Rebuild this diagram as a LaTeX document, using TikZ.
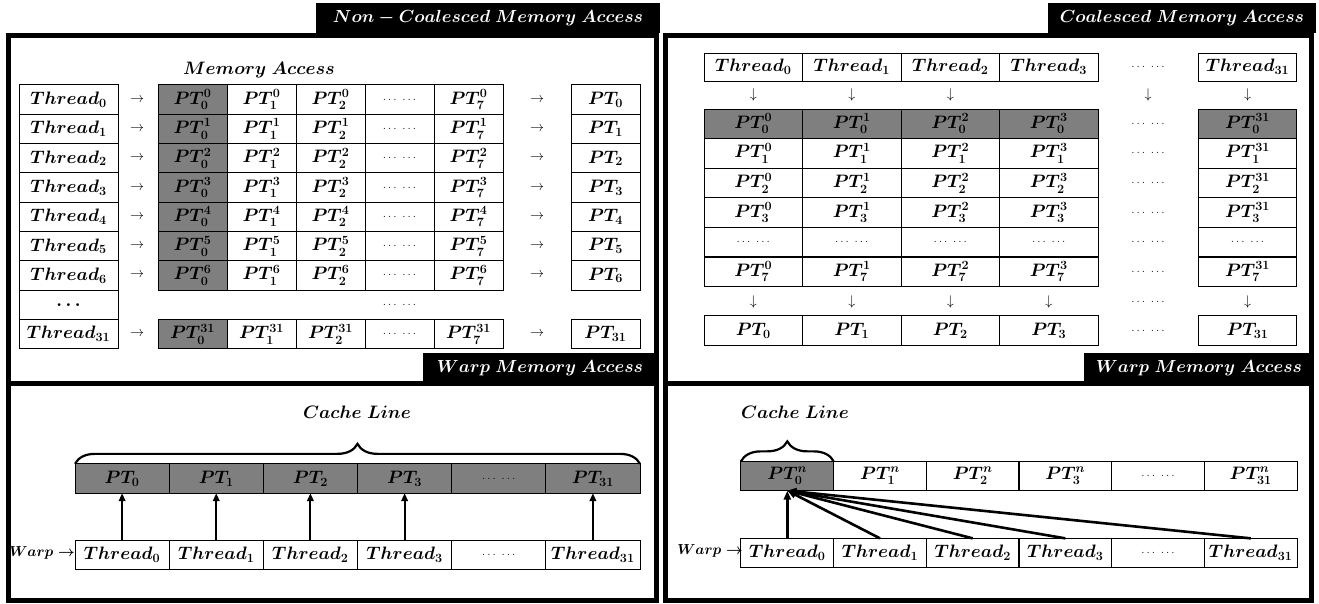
\RequirePackage{fix-cm}
\documentclass[tikz,border=0pt]{standalone}
\usetikzlibrary{arrows.meta,decorations.pathreplacing}
\definecolor{cellgray}{RGB}{127,127,127}
\tikzset{
  base/.style={inner sep=0pt, outer sep=0pt},
  bf/.style={font=\boldmath\fontsize{18}{21}\selectfont},
  cell/.style={base, bf, draw=black, line width=1pt, minimum height=29.3pt},
  gcell/.style={cell, fill=cellgray},
  thinsym/.style={base, font=\fontsize{14}{16}\selectfont},
  dotsf/.style={font=\fontsize{12}{14}\selectfont},
  tab/.style={base, fill=black, text=white, font=\boldmath\fontsize{17.5}{21}\selectfont, minimum height=30pt},
  frame/.style={line width=4.5pt},
  label/.style={base, font=\boldmath\fontsize{18}{21}\selectfont},
  warp/.style={base, font=\boldmath\fontsize{14.5}{16}\selectfont},
  upar/.style={line width=2pt, -{Triangle[length=8pt,width=6.5pt]}},
  fanar/.style={line width=2.6pt, -{Triangle[length=9pt,width=7pt]}},
  brc/.style={decorate, decoration={brace, amplitude=20pt}, line width=2.2pt},
}
\begin{document}
\begin{tikzpicture}[x=1pt,y=-1pt]
\useasboundingbox (0,0) rectangle (1319,603);
% frames
\draw[frame] (8.5,35.5) rectangle (656.5,600.5);
\draw[frame] (8.5,383.5) -- (656.5,383.5);
\draw[frame] (665.5,35.5) rectangle (1311.5,600.5);
\draw[frame] (665.5,383.5) -- (1311.5,383.5);
% tabs
\node[tab, minimum width=344pt] (tabL) at (488,18) {$Non - Coalesced\ Memory\ Access$};
\node[tab, minimum width=268pt] (tabR) at (1182,18) {$Coalesced\ Memory\ Access$};
\node[tab, minimum width=234pt] (warpL) at (540,368) {$Warp\ Memory\ Access$};
\node[tab, minimum width=230pt] (warpR) at (1199,368) {$Warp\ Memory\ Access$};

% ---------- left upper ----------
\node[label] (memacc) at (259,70) {$Memory\ Access$};
\foreach \r in {0,...,6} {
  \pgfmathsetmacro{\y}{99.6+29.3*\r}
  \node[cell, minimum width=99pt] (lt\r) at (68.5,\y) {$Thread_{\r}$};
  \node[thinsym] (la\r) at (137,\y) {$\rightarrow$};
  \node[gcell, minimum width=69pt] (lp\r-0) at (192.5,\y) {$PT^{\r}_{0}$};
  \node[cell, minimum width=69pt] (lp\r-1) at (261.5,\y) {$PT^{\r}_{1}$};
  \node[cell, minimum width=69pt] (lp\r-2) at (330.5,\y) {$PT^{\r}_{2}$};
  \node[cell, minimum width=69pt, dotsf] (lp\r-3) at (399.5,\y) {$\ldots\ \ldots$};
  \node[cell, minimum width=69pt] (lp\r-7) at (468.5,\y) {$PT^{\r}_{7}$};
  \node[thinsym] (lb\r) at (537,\y) {$\rightarrow$};
  \node[cell, minimum width=69pt] (lq\r) at (605.5,\y) {$PT_{\r}$};
}
\node[cell, minimum width=99pt] (ltd) at (68.5,304.7) {$\ldots$};
\node[base, dotsf] (lpd) at (399.5,304.7) {$\ldots\ \ldots$};
\node[cell, minimum width=99pt] (lt31) at (68.5,334) {$Thread_{31}$};
\node[thinsym] (la31) at (137,334) {$\rightarrow$};
\node[gcell, minimum width=69pt] (lp31-0) at (192.5,334) {$PT^{31}_{0}$};
\node[cell, minimum width=69pt] (lp31-1) at (261.5,334) {$PT^{31}_{1}$};
\node[cell, minimum width=69pt] (lp31-2) at (330.5,334) {$PT^{31}_{2}$};
\node[cell, minimum width=69pt, dotsf] (lp31-3) at (399.5,334) {$\ldots\ \ldots$};
\node[cell, minimum width=69pt] (lp31-7) at (468.5,334) {$PT^{31}_{7}$};
\node[thinsym] (lb31) at (537,334) {$\rightarrow$};
\node[cell, minimum width=69pt] (lq31) at (605.5,334) {$PT_{31}$};

% ---------- left lower ----------
\node[label] (cacheL) at (357,412) {$Cache\ Line$};
\node[warp] (warpLL) at (42,553) {$Warp\rightarrow$};
\foreach \i/\x/\t in {0/122.1/0,1/216.25/1,2/310.4/2,3/404.6/3,5/592.9/31} {
  \node[gcell, minimum width=94.2pt] (lk\i) at (\x,478.5) {$PT_{\t}$};
  \node[cell, minimum width=94.2pt] (lw\i) at (\x,555) {$Thread_{\t}$};
  \draw[upar] (lw\i.north) -- (lk\i.south);
}
\node[gcell, minimum width=94.2pt, dotsf] (lk4) at (498.75,478.5) {$\ldots\ \ldots$};
\node[cell, minimum width=94.2pt, dotsf] (lw4) at (498.75,555) {$\ldots\ \ldots$};
\draw[brc] (lk0.north west) -- (lk5.north east);

% ---------- right upper ----------
\foreach \c/\x in {0/753.25,1/851.75,2/950.25,3/1048.75,31/1247.5} {
  \node[cell, minimum width=98.5pt, minimum height=28pt] (rt\c) at (\x,67) {$Thread_{\c}$};
  \node[gcell, minimum width=98.5pt] (rg0-\c) at (\x,123.8) {$PT^{\c}_{0}$};
  \node[cell, minimum width=98.5pt] (rg1-\c) at (\x,153.4) {$PT^{\c}_{1}$};
  \node[cell, minimum width=98.5pt] (rg2-\c) at (\x,183.0) {$PT^{\c}_{2}$};
  \node[cell, minimum width=98.5pt] (rg3-\c) at (\x,212.6) {$PT^{\c}_{3}$};
  \node[cell, minimum width=98.5pt, dotsf] (rgd-\c) at (\x,242.2) {$\ldots\ \ldots$};
  \node[cell, minimum width=98.5pt] (rg7-\c) at (\x,271.8) {$PT^{\c}_{7}$};
  \node[cell, minimum width=98.5pt] (rp\c) at (\x,330.5) {$PT_{\c}$};
}
\foreach \c/\x in {0/753.25,1/851.75,2/950.25,31/1247.5} {
  \node[thinsym] (rda\c) at (\x,95) {$\downarrow$};
}
\foreach \c/\x in {0/753.25,1/851.75,2/950.25,3/1048.75,31/1247.5} {
  \node[thinsym] (rdb\c) at (\x,302) {$\downarrow$};
}
\node[thinsym] (rdad) at (1148,95) {$\downarrow$};
\foreach \n/\y in {t/67,g0/123.8,g1/153.4,g2/183.0,g3/212.6,gd/242.2,g7/271.8,db/302,p/330.5} {
  \node[base, dotsf] (rx\n) at (1148,\y) {$\ldots\ \ldots$};
}

% ---------- right lower ----------
\node[label] (cacheR) at (795,412) {$Cache\ Line$};
\node[warp] (warpRL) at (710,551) {$Warp\rightarrow$};
\node[gcell, minimum width=92.7pt] (rk0) at (787.3,476) {$PT^{n}_{0}$};
\foreach \i/\x/\t in {1/880/1,2/972.7/2,3/1065.3/3,5/1250.7/31} {
  \node[cell, minimum width=92.7pt] (rk\i) at (\x,476) {$PT^{n}_{\t}$};
}
\node[cell, minimum width=92.7pt, dotsf] (rk4) at (1158,476) {$\ldots\ \ldots$};
\foreach \i/\x/\t in {0/787.3/0,1/880/1,2/972.7/2,3/1065.3/3,5/1250.7/31} {
  \node[cell, minimum width=92.7pt] (rw\i) at (\x,553) {$Thread_{\t}$};
}
\node[cell, minimum width=92.7pt, dotsf] (rw4) at (1158,553) {$\ldots\ \ldots$};
\foreach \i in {0,1,2,3,5} {
  \draw[fanar] (rw\i.north) -- (rk0.south);
}
\draw[brc] (rk0.north west) -- (rk0.north east);
\end{tikzpicture}
\end{document}
